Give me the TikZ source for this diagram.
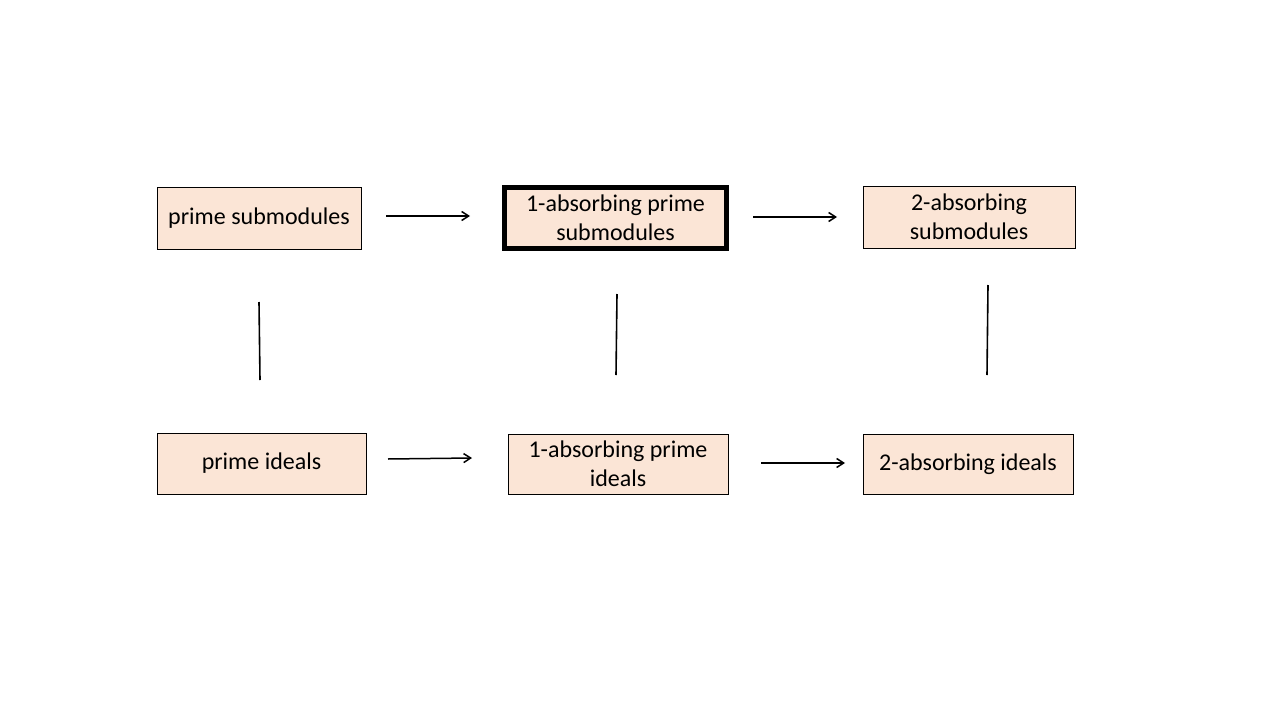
\documentclass[tikz,border=0pt]{standalone}
\usepackage{fontspec}
\setmainfont{Carlito}
\usetikzlibrary{arrows.meta}
\definecolor{peach}{HTML}{FBE5D6}
\tikzset{
  box/.style={draw=black, fill=peach, line width=0.9pt, inner sep=0pt, align=center,
    font=\fontsize{24}{29}\selectfont},
  keybox/.style={box, line width=5.5pt},
  arr/.style={-{Straight Barb[length=7pt,width=9pt]}, line width=1.5pt},
  lnk/.style={line width=1.6pt}
}
\begin{document}
\begin{tikzpicture}[x=1pt,y=-1pt]
\useasboundingbox (0,0) rectangle (1280,720);
\fill[white] (0,0) rectangle (1280,720);
% boxes
\node[box, minimum width=204pt, minimum height=62pt] (ps) at (259,218) {prime submodules};
\node[keybox, minimum width=222pt, minimum height=61pt] (aps) at (615.5,218) {1-absorbing prime\\submodules};
\node[box, minimum width=212pt, minimum height=62pt] (tas) at (969,217) {2-absorbing\\submodules};
\node[box, minimum width=209pt, minimum height=61pt] (pi) at (261.5,463.5) {prime ideals};
\node[box, minimum width=220pt, minimum height=60pt] (api) at (618,464) {1-absorbing prime\\ideals};
\node[box, minimum width=210pt, minimum height=60pt] (tai) at (968,464) {2-absorbing ideals};
% connector endpoints
\coordinate (a1s) at (386,216); \coordinate (a1e) at (470,216);
\coordinate (a2s) at (753,217); \coordinate (a2e) at (837,217);
\coordinate (a3s) at (388,459); \coordinate (a3e) at (472,458);
\coordinate (a4s) at (761,463); \coordinate (a4e) at (845,463);
\coordinate (v1s) at (259,302); \coordinate (v1e) at (260,380);
\coordinate (v2s) at (617,294); \coordinate (v2e) at (616,375);
\coordinate (v3s) at (988,285); \coordinate (v3e) at (987,375);
\draw[arr] (a1s) -- (a1e);
\draw[arr] (a2s) -- (a2e);
\draw[arr] (a3s) -- (a3e);
\draw[arr] (a4s) -- (a4e);
\draw[lnk] (v1s) -- (v1e);
\draw[lnk] (v2s) -- (v2e);
\draw[lnk] (v3s) -- (v3e);
\end{tikzpicture}
\end{document}
